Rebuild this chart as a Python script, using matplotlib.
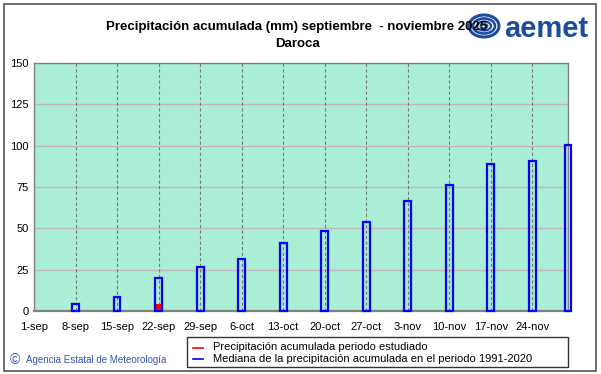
import matplotlib
matplotlib.use("Agg")
import matplotlib.pyplot as plt
from matplotlib.patches import Rectangle, Ellipse
from matplotlib.lines import Line2D

plt.rcParams['font.family'] = ['Liberation Sans', 'DejaVu Sans']

# weekly tick labels (day offset from 1-sep)
tick_days = [0, 7, 14, 21, 28, 35, 42, 49, 56, 63, 70, 77, 84]
tick_labels = ['1-sep', '8-sep', '15-sep', '22-sep', '29-sep', '6-oct', '13-oct',
               '20-oct', '27-oct', '3-nov', '10-nov', '17-nov', '24-nov']

# median accumulated precipitation 1991-2020 (mm)
median_days = [0, 7, 14, 21, 28, 35, 42, 49, 56, 63, 70, 77, 84, 90]
median_mm = [0, 4.4, 8.3, 19.8, 26.6, 31.5, 41.3, 48.2, 53.6, 66.7, 76.0, 88.9, 90.7, 100.2]

# accumulated precipitation in the studied period (mm)
obs_days = [0, 7, 14, 21]
obs_mm = [0, 0, 0, 4.4]

W, H = 601, 374
fig = plt.figure(figsize=(W / 100, H / 100), dpi=100)

# outer frame
fig.patches.append(Rectangle((4 / W, 3 / H), 592 / W, 367 / H, transform=fig.transFigure,
                             fill=False, edgecolor='#555555', linewidth=1.2))

ax = fig.add_axes([34 / W, 63 / H, 534 / W, 248 / H])
ax.set_facecolor('#a9eed5')
ax.set_xlim(0, 90)
ax.set_ylim(0, 150)

# grid
for y in range(25, 150, 25):
    ax.axhline(y, color='#c4b4c4', linewidth=1, zorder=1)
for d in tick_days[1:]:
    ax.axvline(d, color='#7a7a7a', linewidth=0.8, linestyle=(0, (3, 2)), zorder=1)

# bars (zero values are not drawn)
md = [(d, v) for d, v in zip(median_days, median_mm) if v > 0]
ax.bar([d for d, v in md], [v for d, v in md], width=1.15, facecolor='none',
       edgecolor='#0000ff', linewidth=1.6, zorder=3, clip_on=False)
od = [(d, v) for d, v in zip(obs_days, obs_mm) if v > 0]
ax.bar([d for d, v in od], [v for d, v in od], width=0.8, color='#ff0000', zorder=2)

ax.set_xticks(tick_days)
ax.set_xticklabels(tick_labels, fontsize=8)
ax.set_yticks(range(0, 151, 25))
ax.tick_params(length=0, labelsize=8, pad=4)
ax.tick_params(axis='x', pad=8)
for s in ax.spines.values():
    s.set_color('#808080')
    s.set_linewidth(1)
ax.spines['bottom'].set_linewidth(1.6)

# titles
fig.text(297 / W, 1 - 27 / H, 'Precipitación acumulada (mm) septiembre  - noviembre 2025',
         ha='center', va='center', fontsize=9.5, fontweight='bold')
fig.text(298 / W, 1 - 44 / H, 'Daroca', ha='center', va='center', fontsize=9.5, fontweight='bold')

# aemet logo (approximation)
logo_blue = '#1d4b9e'
for i, (w, h) in enumerate([(30, 22), (22, 15), (14, 9), (7, 4)]):
    fig.patches.append(Ellipse((484 / W, 1 - 26 / H), w / W, h / H, angle=0,
                               transform=fig.transFigure, fill=False,
                               edgecolor=logo_blue, linewidth=2.2 - 0.3 * i))
fig.text(546 / W, 1 - 29 / H, 'aemet', ha='center', va='center', fontsize=21,
         fontweight='bold', color=logo_blue)

# legend box
fig.patches.append(Rectangle((187 / W, 1 - 367 / H), 381 / W, 30 / H, transform=fig.transFigure,
                             fill=False, edgecolor='#333333', linewidth=1))
fig.lines.append(Line2D([193 / W, 203 / W], [1 - 347.5 / H] * 2, transform=fig.transFigure,
                        color='#ff0000', linewidth=1.2))
fig.lines.append(Line2D([193 / W, 203 / W], [1 - 359 / H] * 2, transform=fig.transFigure,
                        color='#0000ff', linewidth=1.2))
fig.text(213 / W, 1 - 347.5 / H, 'Precipitación acumulada periodo estudiado',
         ha='left', va='center', fontsize=8)
fig.text(213 / W, 1 - 359 / H, 'Mediana de la precipitación acumulada en el periodo 1991-2020',
         ha='left', va='center', fontsize=8)

# credit
fig.text(10 / W, 1 - 360 / H, '©', ha='left', va='center', fontsize=10, color='#3355aa')
fig.text(26 / W, 1 - 360 / H, 'Agencia Estatal de Meteorología', ha='left', va='center',
         fontsize=7, color='#3355aa')

fig.savefig('out.png', dpi=100)
